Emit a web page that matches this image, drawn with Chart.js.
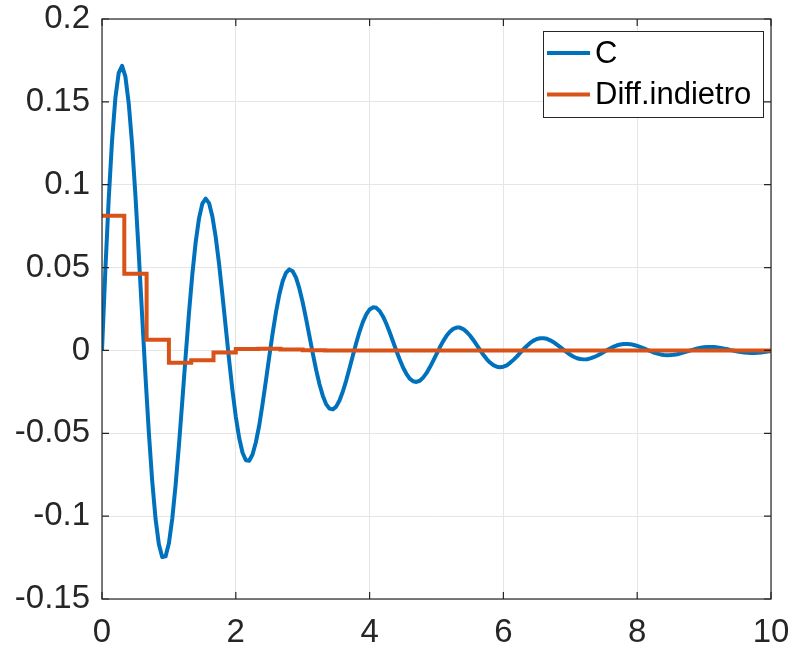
<!DOCTYPE html>
<html>
<head>
<meta charset="utf-8">
<script src="https://cdn.jsdelivr.net/npm/chart.js@4.4.1/dist/chart.umd.min.js"></script>
<style>
  html, body { margin: 0; padding: 0; background: #fff; }
  #wrap { width: 792px; height: 649px; }
</style>
</head>
<body>
<div id="wrap"><canvas id="responseChart" width="792" height="649"></canvas></div>
<script>
// continuous response C, sampled every 0.05 s
const sampleStepC = 0.05;
const responseC = [
  0, 0.0483, 0.0912, 0.1265, 0.1523, 0.1675, 0.1717, 0.1652, 0.1489, 0.1243,
  0.0932, 0.0580, 0.0209, -0.0156, -0.0494, -0.0786, -0.1015, -0.1170, -0.1247, -0.1243,
  -0.1163, -0.1016, -0.0814, -0.0572, -0.0307, -0.0036, 0.0225, 0.0458, 0.0653, 0.0797,
  0.0886, 0.0916, 0.0889, 0.0808, 0.0683, 0.0521, 0.0335, 0.0138, -0.0058, -0.0241,
  -0.0400, -0.0527, -0.0616, -0.0663, -0.0666, -0.0628, -0.0554, -0.0453, -0.0323, -0.0183,
  -0.0038, 0.0102, 0.0229, 0.0336, 0.0417, 0.0468, 0.0489, 0.0478, 0.0439, 0.0374,
  0.0290, 0.0192, 0.0088, -0.0017, -0.0116, -0.0203, -0.0273, -0.0324, -0.0351, -0.0356,
  -0.0339, -0.0302, -0.0248, -0.0182, -0.0108, -0.0030, 0.0045, 0.0114, 0.0172, 0.0217,
  0.0247, 0.0260, 0.0257, 0.0238, 0.0205, 0.0161, 0.0110, 0.0054, -0.0002, -0.0055,
  -0.0103, -0.0141, -0.0170, -0.0186, -0.0190, -0.0183, -0.0164, -0.0137, -0.0102, -0.0063,
  -0.0022, 0.0019, 0.0056, 0.0088, 0.0113, 0.0130, 0.0138, 0.0138, 0.0129, 0.0112,
  0.0090, 0.0063, 0.0033, 0.0003, -0.0026, -0.0052, -0.0073, -0.0089, -0.0098, -0.0102,
  -0.0098, -0.0090, -0.0075, -0.0057, -0.0037, -0.0015, 0.0007, 0.0027, 0.0045, 0.0059,
  0.0069, 0.0073, 0.0074, 0.0070, 0.0061, 0.0050, 0.0035, 0.0020, 0.0004, -0.0012,
  -0.0026, -0.0038, -0.0047, -0.0052, -0.0054, -0.0053, -0.0048, -0.0041, -0.0032, -0.0021,
  -0.0009, 0.0002, 0.0013, 0.0023, 0.0031, 0.0036, 0.0039, 0.0039, 0.0038, 0.0033,
  0.0027, 0.0020, 0.0012, 0.0003, -0.0005, -0.0013, -0.0019, -0.0024, -0.0027, -0.0029,
  -0.0028, -0.0026, -0.0023, -0.0018, -0.0012, -0.0006, 0.0000, 0.0006, 0.0012, 0.0016,
  0.0019, 0.0021, 0.0021, 0.0020, 0.0018, 0.0015, 0.0011, 0.0007, 0.0002, -0.0002,
  -0.0006, -0.0010, -0.0013, -0.0014, -0.0015, -0.0015, -0.0014, -0.0012, -0.0010, -0.0007,
  -0.0004
];

// backward-difference discretisation, held over each period Ts = 1/3 s
const sampleStepD = 1 / 3;
const responseDiff = [
  0.0813, 0.0463, 0.0065, -0.0074, -0.0060, -0.0012, 0.0008, 0.0010, 0.0005, 0.0001,
  0, 0, 0, 0, 0, 0, 0, 0, 0, 0,
  0, 0, 0, 0, 0, 0, 0, 0, 0, 0,
  0
];

const seriesLabels = ['C', 'Diff.indietro'];
const seriesColors = ['#0072BD', '#D95319'];

const xTicks = [0, 2, 4, 6, 8, 10];
const xTickLabels = ['0', '2', '4', '6', '8', '10'];
const yTicks = [-0.15, -0.1, -0.05, 0, 0.05, 0.1, 0.15, 0.2];
const yTickLabels = ['-0.15', '-0.1', '-0.05', '0', '0.05', '0.1', '0.15', '0.2'];

const FONT = "'Liberation Sans', Arial, Helvetica, sans-serif";
const AXIS_COLOR = '#262626';
const GRID_COLOR = '#e5e5e5';

const pointsC = responseC.map((v, i) => ({ x: i * sampleStepC, y: v }));
const pointsDiff = responseDiff.map((v, i) => ({ x: i * sampleStepD, y: v }));

// box around the axes with inward ticks on all four sides
const axesBox = {
    id: 'axesBox',
    afterDatasetsDraw(chart) {
        const { ctx, chartArea: a, scales } = chart;
        const len = 7;
        ctx.save();
        ctx.strokeStyle = AXIS_COLOR;
        ctx.lineWidth = 1.2;
        ctx.strokeRect(a.left, a.top, a.right - a.left, a.bottom - a.top);
        ctx.beginPath();
        xTicks.forEach(v => {
            const px = scales.x.getPixelForValue(v);
            ctx.moveTo(px, a.bottom); ctx.lineTo(px, a.bottom - len);
            ctx.moveTo(px, a.top); ctx.lineTo(px, a.top + len);
        });
        yTicks.forEach(v => {
            const py = scales.y.getPixelForValue(v);
            ctx.moveTo(a.left, py); ctx.lineTo(a.left + len, py);
            ctx.moveTo(a.right, py); ctx.lineTo(a.right - len, py);
        });
        ctx.stroke();
        ctx.restore();
    }
};

// legend box in the top right corner of the axes
const legendBox = {
    id: 'legendBox',
    afterDraw(chart) {
        const { ctx, chartArea: a } = chart;
        const w = 220, h = 86;
        const x0 = a.right - 8 - w, y0 = a.top + 12;
        ctx.save();
        ctx.fillStyle = '#fff';
        ctx.fillRect(x0, y0, w, h);
        ctx.strokeStyle = AXIS_COLOR;
        ctx.lineWidth = 1;
        ctx.strokeRect(x0 + 0.5, y0 + 0.5, w, h);
        ctx.font = '31px ' + FONT;
        ctx.textBaseline = 'middle';
        ctx.lineWidth = 4;
        seriesLabels.forEach((label, i) => {
            const yy = y0 + 22 + i * 41.5;
            ctx.strokeStyle = seriesColors[i];
            ctx.beginPath();
            ctx.moveTo(x0 + 4, yy);
            ctx.lineTo(x0 + 47, yy);
            ctx.stroke();
            ctx.fillStyle = '#000';
            ctx.fillText(label, x0 + 52, yy + 1);
        });
        ctx.restore();
    }
};

new Chart(document.getElementById('responseChart'), {
    type: 'line',
    data: {
        datasets: [{
            label: seriesLabels[0],
            data: pointsC,
            borderColor: seriesColors[0],
            borderWidth: 4,
            borderJoinStyle: 'round',
            fill: false,
            order: 1
        }, {
            label: seriesLabels[1],
            data: pointsDiff,
            borderColor: seriesColors[1],
            borderWidth: 4,
            stepped: 'before',
            fill: false,
            order: 0
        }]
    },
    options: {
        responsive: false,
        animation: false,
        devicePixelRatio: 1,
        layout: { padding: { top: 19, right: 21, left: 0, bottom: 0 } },
        elements: { point: { radius: 0 } },
        plugins: {
            legend: { display: false },
            tooltip: { enabled: false }
        },
        scales: {
            x: {
                type: 'linear',
                min: 0,
                max: 10,
                afterBuildTicks: s => { s.ticks = xTicks.map(v => ({ value: v })); },
                afterFit: s => {
                    s.height = 50;
                    s.paddingLeft = 0;
                    s.paddingRight = 0;
                },
                grid: { color: GRID_COLOR, drawTicks: false },
                border: { display: false },
                ticks: {
                    color: AXIS_COLOR,
                    font: { family: FONT, size: 33 },
                    padding: 14,
                    maxRotation: 0,
                    callback: v => xTickLabels[xTicks.indexOf(v)]
                }
            },
            y: {
                type: 'linear',
                min: -0.15,
                max: 0.2,
                afterBuildTicks: s => { s.ticks = yTicks.map(v => ({ value: v })); },
                afterFit: s => {
                    s.width = 102;
                    s.paddingTop = 0;
                    s.paddingBottom = 0;
                },
                grid: { color: GRID_COLOR, drawTicks: false },
                border: { display: false },
                ticks: {
                    color: AXIS_COLOR,
                    font: { family: FONT, size: 33 },
                    padding: 12,
                    callback: v => yTickLabels[yTicks.indexOf(v)]
                }
            }
        }
    },
    plugins: [axesBox, legendBox]
});
</script>
</body>
</html>
